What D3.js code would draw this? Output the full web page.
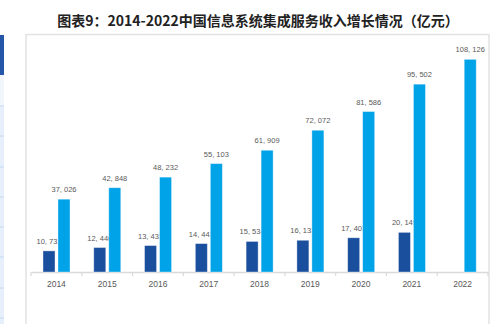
<!DOCTYPE html>
<html>
<head>
<meta charset="utf-8">
<script src="https://cdn.jsdelivr.net/npm/d3@7"></script>
<style>
  body { margin: 0; background: #fff; }
  svg { display: block; font-family: "Liberation Sans", Arial, sans-serif; }
</style>
</head>
<body>
<script>
// chart data
var title = "图表9：2014-2022中国信息系统集成服务收入增长情况（亿元）";
var years = ["2014", "2015", "2016", "2017", "2018", "2019", "2020", "2021", "2022"];
var darkValues = [10731, 12440, 13431, 14443, 15534, 16133, 17403, 20149, null];
var lightValues = [37026, 42848, 48232, 55103, 61909, 72072, 81586, 95502, 108126];
var seriesKeys = ["dark", "light"];

// variables chart
var width = 496;
var height = 324;
var baseY = 272;
var colors = { dark: "#1a4f9e", light: "#00a2e8" };

var svg = d3.select("body")
            .append("svg")
            .attr("width", width)
            .attr("height", height);

// side strip on the left
svg.append("rect").attr("x", 0).attr("y", 75).attr("width", 4).attr("height", 260).attr("fill", "#e6effb");
svg.append("rect").attr("x", 0).attr("y", 75).attr("width", 4).attr("height", 31).attr("fill", "#f1f6fd");
svg.append("rect").attr("x", 0).attr("y", 35).attr("width", 4).attr("height", 40).attr("fill", "#2457a8");
[106, 136, 167, 197, 227, 257, 288, 318].forEach(function(y) {
  svg.append("line").attr("x1", 0).attr("x2", 4).attr("y1", y).attr("y2", y)
     .attr("stroke", "#c4d8f2").attr("stroke-width", 1);
});

// panel border
svg.append("rect")
   .attr("x", 26).attr("y", 34.5)
   .attr("width", 463).attr("height", 300)
   .attr("fill", "none")
   .attr("stroke", "#e2e2e2")
   .attr("stroke-width", 1.5);

// title
svg.append("text")
   .attr("x", 258)
   .attr("y", 26)
   .attr("text-anchor", "middle")
   .style("font-family", "'Noto Sans CJK SC', sans-serif")
   .style("font-size", "14px")
   .style("font-weight", "bold")
   .attr("fill", "#222")
   .text(title);

// scales
var xScale = d3.scaleBand()
               .domain(years)
               .range([31, 488])
               .paddingInner(0)
               .paddingOuter(0);
var inner = d3.scaleBand()
              .domain(seriesKeys)
              .range([12, 39])
              .paddingInner(0.2)
              .paddingOuter(0);
var yScale = d3.scaleLinear()
               .domain([0, 120000])
               .range([baseY, 36]);

var fmt = function(v) { return d3.format(",")(v).replace(",", ", "); };

// x axis
var xAxe = d3.axisBottom(xScale).tickSize(0).tickPadding(9);
var axisG = svg.append("g")
   .attr("class", "axis")
   .attr("transform", "translate(" + [0, baseY] + ")")
   .call(xAxe);
axisG.select(".domain").attr("stroke", "#d9d9d9").attr("stroke-width", 1.5);
axisG.selectAll("text")
     .style("font-size", "8.5px")
     .attr("fill", "#595959");

// category boundary ticks
var bounds = years.map(function(d) { return xScale(d); }).concat([xScale.range()[1]]);
axisG.selectAll(".bound")
     .data(bounds)
     .enter()
     .append("line")
     .attr("class", "bound")
     .attr("x1", function(d) { return d; })
     .attr("x2", function(d) { return d; })
     .attr("y1", 0)
     .attr("y2", 4)
     .attr("stroke", "#d9d9d9")
     .attr("stroke-width", 1.2);

// bars, one series at a time so the light bars sit over the dark labels
var seriesData = { dark: darkValues, light: lightValues };
seriesKeys.forEach(function(key) {
  var points = years.map(function(y, i) { return { year: y, value: seriesData[key][i] }; })
                    .filter(function(d) { return d.value != null; });
  var g = svg.append("g");

  g.selectAll("rect")
   .data(points)
   .enter()
   .append("rect")
   .attr("x", function(d) { return xScale(d.year) + inner(key); })
   .attr("y", function(d) { return yScale(d.value); })
   .attr("width", inner.bandwidth())
   .attr("height", function(d) { return baseY - yScale(d.value); })
   .attr("fill", colors[key])
   .attr("stroke", "rgba(255,255,255,0.45)")
   .attr("stroke-width", 0.8);

  g.selectAll("text")
   .data(points)
   .enter()
   .append("text")
   .attr("x", function(d) { return xScale(d.year) + inner(key) + inner.bandwidth() / 2; })
   .attr("y", function(d) { return yScale(d.value) - 7; })
   .attr("text-anchor", "middle")
   .style("font-size", "7.5px")
   .attr("fill", "#595959")
   .text(function(d) { return fmt(d.value); });
});
</script>
</body>
</html>
